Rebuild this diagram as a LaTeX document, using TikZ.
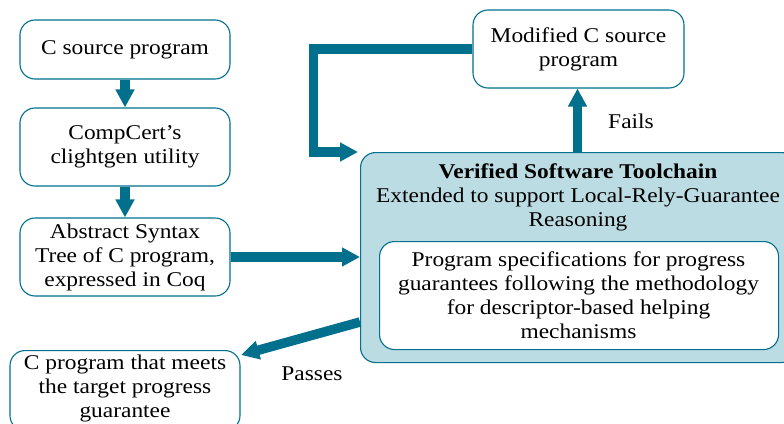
\documentclass[tikz,border=0pt]{standalone}
\usepackage{fontspec}
\setmainfont{Liberation Serif}[FakeStretch=1.115]
\usetikzlibrary{arrows.meta}
\definecolor{teal}{HTML}{00708D}
\definecolor{paleblue}{HTML}{BCDCE3}
\tikzset{
  every node/.style={font=\fontsize{21}{24}\selectfont},
  stagebox/.style={draw=teal, line width=1.1pt, rounded corners=15pt, fill=white,
    align=center, inner sep=0pt},
  flow/.style={draw=teal, line width=9.5pt, line join=miter,
    -{Triangle[length=18pt,width=18pt]}},
  lbl/.style={inner sep=0pt}
}
\begin{document}
\begin{tikzpicture}[x=1pt,y=-1pt]
\useasboundingbox (0,0) rectangle (784,423);
% left column
\node[stagebox, minimum width=210pt, minimum height=59pt] (src) at (125,49.5) {C source program};
\node[stagebox, minimum width=210pt, minimum height=78pt] (clg) at (125,147) {CompCert's\\clightgen utility};
\node[stagebox, minimum width=210pt, minimum height=78pt] (ast) at (125,257) {Abstract Syntax\\Tree of C program,\\expressed in Coq};
\node[stagebox, minimum width=230pt, minimum height=80pt, anchor=north] (out) at (125,350) {};
\node[lbl, align=center] (outtxt) at (125,388) {C program that meets\\the target progress\\guarantee};
% toolchain
\node[stagebox, fill=paleblue, minimum width=436pt, minimum height=210pt, anchor=north west] (vst) at (360,152) {};
\node[lbl, align=center] (vsttxt) at (578,197) {\textbf{Verified Software Toolchain}\\Extended to support Local-Rely-Guarantee\\Reasoning};
\node[stagebox, minimum width=399pt, minimum height=108pt, anchor=north west] (spec) at (379,241) {};
\node[lbl, align=center] (spectxt) at (578.5,295) {Program specifications for progress\\guarantees following the methodology\\for descriptor-based helping\\mechanisms};
\node[stagebox, minimum width=211pt, minimum height=78pt] (mod) at (578.5,49) {Modified C source\\program};
% connectors
\coordinate (loopin) at (358,152);
\coordinate (passout) at (360,322);
\coordinate (passin) at (241,355);
\coordinate (failout) at (577.5,152);
\draw[flow] (src) -- (clg);
\draw[flow] (clg) -- (ast);
\draw[flow] (ast.east) -- (vst.west |- ast.east);
\draw[flow] (failout) -- (mod.south -| failout);
\draw[flow] (mod.west) -- (313.5,49) -- (313.5,152) -- (loopin);
\draw[flow] (passout) -- (passin);
\node[lbl] (fails) at (631,121) {Fails};
\node[lbl] (passes) at (312,374) {Passes};
\end{tikzpicture}
\end{document}
